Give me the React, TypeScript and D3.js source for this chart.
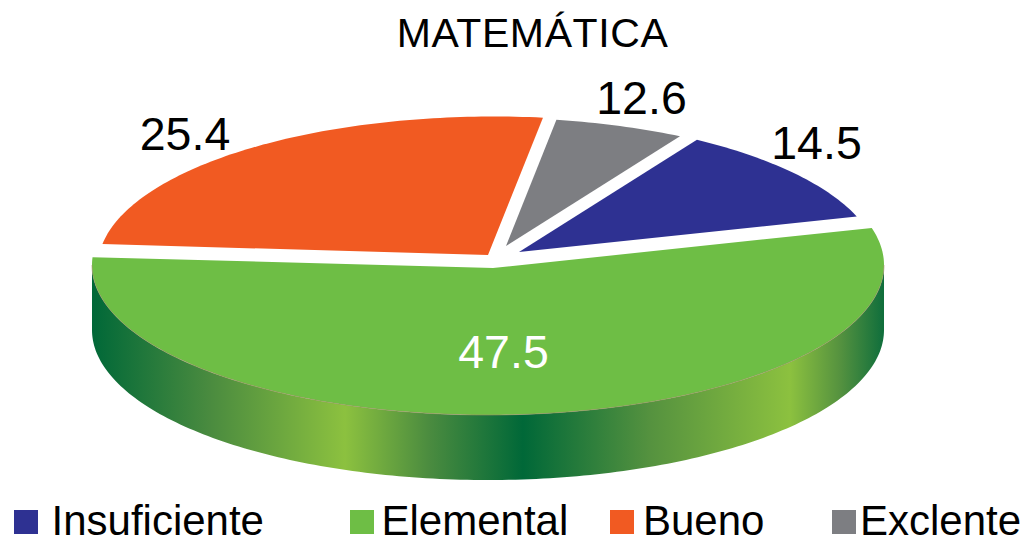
import React from "react";
import * as d3 from "d3";

// ---- data ----
const categories = ["Insuficiente", "Elemental", "Bueno", "Exclente"];
const values = [14.5, 47.5, 25.4, 12.6];
const title = "MATEMÁTICA";

// ---- styling and layout ----
const W = 1034;
const H = 539;
const FONT = "'Liberation Sans', Arial, sans-serif";
const colors = ["#2E3192", "#6EBE45", "#F15A22", "#7D7E82"];
const RX = 396;
const RY = 150;
const DEPTH = 65;
const CENTER = { x: 488, y: 265 };

// The drawing's perspective is uneven: fractions of the total map to these drawn angles (degrees, clockwise from top)
const fractionDomain = [0, 0.145, 0.62, 0.874, 1];
const drawnAngles = [30.85, 73.2, 275.6, 368.5, 390.85];
const angleScale = d3.scaleLinear().domain(fractionDomain).range(drawnAngles);

const insets = [[1.85, 2.5], [2.5, 2.6], [3.0, 1.4], [1.45, 1.85]];
const centers = [{ x: 483, y: 266 }, CENTER, { x: 494, y: 266.5 }, { x: 488, y: 267.5 }];
const apexes = [{ x: 519, y: 252 }, { x: 493, y: 268 }, { x: 488, y: 255 }, { x: 506, y: 246 }];
const labelPos = [{ x: 816.5, y: 158.5 }, { x: 503.5, y: 368 }, { x: 185, y: 150 }, { x: 641.5, y: 114 }];
const labelFill = ["#000", "#fff", "#000", "#000"];
const legendBox = [14, 350, 610, 832];
const legendText = [51.5, 381.5, 643, 860];

const rad = (d: number) => (d * Math.PI) / 180;
const onEllipse = (c: { x: number; y: number }, deg: number, dy = 0): [number, number] => [
  c.x + RX * Math.sin(rad(deg)),
  c.y - RY * Math.cos(rad(deg)) + dy,
];
const line = d3.line();

const sweep = (from: number, to: number) => {
  const n = Math.max(2, Math.ceil(Math.abs(to - from)));
  return d3.range(n + 1).map((i) => from + ((to - from) * i) / n);
};

const pieGen = d3.pie<number>().sort(null).startAngle(0).endAngle(1);
const arcs = pieGen(values);

const slicePath = (i: number) => {
  const a0 = angleScale(arcs[i].startAngle) + insets[i][0];
  const a1 = angleScale(arcs[i].endAngle) - insets[i][1];
  const pts = sweep(a0, a1).map((a) => onEllipse(centers[i], a));
  return line([[apexes[i].x, apexes[i].y], ...pts]) + "Z";
};

const sideAngles = sweep(90, 270);
const sidePath =
  line([
    ...sideAngles.map((a) => onEllipse(CENTER, a)),
    ...sideAngles.slice().reverse().map((a) => onEllipse(CENTER, a, DEPTH)),
  ]) + "Z";
const rimPath = line(sideAngles.map((a) => onEllipse(CENTER, a))) as string;

const sideStops: [number, string][] = [
  [92, "#006838"],
  [210, "#4A8B3F"],
  [345, "#8CC13F"],
  [430, "#4A8B3F"],
  [523, "#006838"],
  [650, "#55923F"],
  [790, "#8CC13F"],
  [840, "#55923F"],
  [884, "#0F6E3C"],
];

export default function App() {
  return (
    <svg
      width={W}
      height={H}
      viewBox={`0 0 ${W} ${H}`}
      style={{ position: "absolute", left: 0, top: 0, background: "#fff" }}
    >
      <defs>
        <linearGradient id="side" gradientUnits="userSpaceOnUse" x1={92} x2={884} y1={0} y2={0}>
          {sideStops.map(([x, c]) => (
            <stop key={x} offset={(x - 92) / (884 - 92)} stopColor={c} />
          ))}
        </linearGradient>
      </defs>
      <text x={532.5} y={46.7} textAnchor="middle" fontFamily={FONT} fontSize={41} letterSpacing={0.6} fill="#000">
        {title}
      </text>
      <path d={sidePath} fill="url(#side)" />
      {categories.map((c, i) => (
        <path key={c} d={slicePath(i)} fill={colors[i]} />
      ))}
      <path d={rimPath} fill="none" stroke="#A58B68" strokeWidth={0.8} opacity={0.7} />
      {values.map((v, i) => (
        <text
          key={i}
          x={labelPos[i].x}
          y={labelPos[i].y}
          textAnchor="middle"
          fontFamily={FONT}
          fontSize={46.5}
          fill={labelFill[i]}
        >
          {v.toFixed(1)}
        </text>
      ))}
      {categories.map((c, i) => (
        <g key={c}>
          <rect x={legendBox[i]} y={510} width={24} height={24} fill={colors[i]} />
          <text x={legendText[i]} y={534.5} fontFamily={FONT} fontSize={42} fill="#000">
            {c}
          </text>
        </g>
      ))}
    </svg>
  );
}
